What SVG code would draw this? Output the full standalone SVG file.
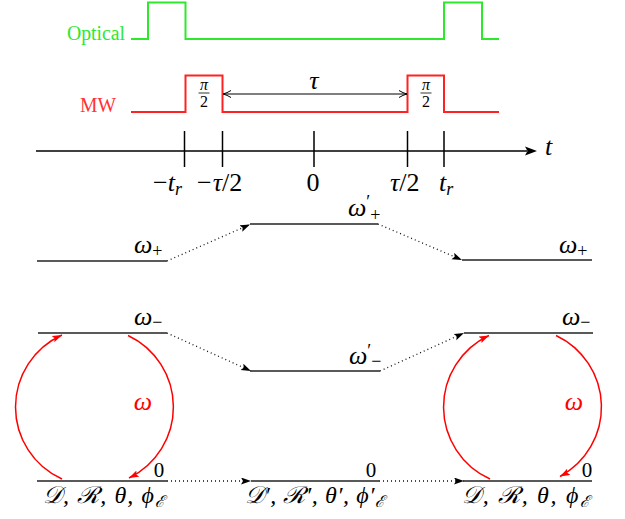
<svg xmlns="http://www.w3.org/2000/svg" width="625" height="519" viewBox="0 0 625 519">
<style>
  .txt { font-family: "Liberation Serif", "Times New Roman", "DejaVu Serif", serif; }
  .it { font-family: "Liberation Serif", "Times New Roman", "DejaVu Serif", serif; font-style: italic; }
  .up { font-style: normal; }
  .lvl { stroke: #222; stroke-width: 1.4; fill: none; }
  .dot { stroke: #111; stroke-width: 1.3; stroke-dasharray: 1 3; fill: none; marker-end: url(#blk); }
  .arc { stroke: #f00; stroke-width: 1.5; fill: none; marker-end: url(#red); }
  .pulseG { stroke: #2ee82e; stroke-width: 2; fill: none; }
  .pulseR { stroke: #f22; stroke-width: 2; fill: none; }
</style>
<defs>
  <marker id="blk" markerUnits="userSpaceOnUse" markerWidth="12" markerHeight="8" refX="10" refY="3.5" orient="auto">
    <path d="M0,0 L10,3.5 L0,7 L2,3.5 Z" fill="#000"/>
  </marker>
  <marker id="red" markerUnits="userSpaceOnUse" markerWidth="12" markerHeight="8" refX="10" refY="3.5" orient="auto">
    <path d="M0,0 L10,3.5 L0,7 L2,3.5 Z" fill="#f00"/>
  </marker>
  <marker id="open" markerUnits="userSpaceOnUse" markerWidth="10" markerHeight="10" refX="8" refY="4" orient="auto-start-reverse">
    <path d="M0,0.5 Q4,3 8,4 Q4,5 0,7.5" fill="none" stroke="#000" stroke-width="1"/>
  </marker>
</defs>

<g id="optical">
  <text class="txt" x="67" y="40" font-size="20" fill="#2ee82e" textLength="58" lengthAdjust="spacingAndGlyphs">Optical</text>
  <polyline class="pulseG" points="131,39 148,39 148,2.5 185.5,2.5 185.5,39 444,39 444,2.5 482,2.5 482,39 499,39"/>
</g>

<g id="mw">
  <text class="txt" x="80" y="112" font-size="20" fill="#f33" textLength="36" lengthAdjust="spacingAndGlyphs">MW</text>
  <polyline class="pulseR" points="131,112 185.5,112 185.5,75.5 222.5,75.5 222.5,112 407.5,112 407.5,75.5 444,75.5 444,112 499,112"/>
  <g id="frac-left">
    <text class="it" x="204" y="90" font-size="16" text-anchor="middle">π</text>
    <line x1="198.5" y1="93" x2="209.5" y2="93" stroke="#000" stroke-width="0.8"/>
    <text class="txt" x="204" y="107" font-size="16" text-anchor="middle">2</text>
  </g>
  <g id="frac-right">
    <text class="it" x="426" y="90" font-size="16" text-anchor="middle">π</text>
    <line x1="420.5" y1="93" x2="431.5" y2="93" stroke="#000" stroke-width="0.8"/>
    <text class="txt" x="426" y="107" font-size="16" text-anchor="middle">2</text>
  </g>
  <line x1="223" y1="94" x2="407" y2="94" stroke="#000" stroke-width="1" marker-start="url(#open)" marker-end="url(#open)"/>
  <text class="it" x="314" y="89" font-size="26" text-anchor="middle">τ</text>
</g>

<g id="axis">
  <line x1="36" y1="151" x2="527" y2="151" stroke="#000" stroke-width="1.5"/>
  <path d="M537,151 L525,146.5 L527.5,151 L525,155.5 Z" fill="#000"/>
  <text class="it" x="545" y="155" font-size="26">t</text>
  <g stroke="#000" stroke-width="1.5">
    <line x1="184.5" y1="131" x2="184.5" y2="167"/>
    <line x1="222.5" y1="131" x2="222.5" y2="167"/>
    <line x1="314" y1="131" x2="314" y2="167"/>
    <line x1="407.5" y1="131" x2="407.5" y2="167"/>
    <line x1="444" y1="131" x2="444" y2="167"/>
  </g>
  <text class="txt" x="153" y="191" font-size="26">−<tspan class="it">t</tspan><tspan class="it" font-size="18" dy="4">r</tspan></text>
  <text class="txt" x="197" y="191" font-size="26">−<tspan class="it" dx="1">τ</tspan>/2</text>
  <text class="txt" x="313" y="191" font-size="26" text-anchor="middle">0</text>
  <text class="txt" x="390" y="191" font-size="26"><tspan class="it">τ</tspan>/2</text>
  <text class="it" x="439" y="191" font-size="26">t<tspan font-size="18" dy="4">r</tspan></text>
</g>

<g id="connectors">
  <line class="dot" x1="167" y1="261" x2="250" y2="224.5"/>
  <line class="dot" x1="378" y1="224" x2="462" y2="260"/>
  <line class="dot" x1="167" y1="333" x2="251" y2="371"/>
  <line class="dot" x1="380" y1="371" x2="464" y2="333"/>
  <line class="dot" x1="167" y1="481" x2="251" y2="481"/>
  <line class="dot" x1="379" y1="481" x2="464" y2="481"/>
  <path class="arc" d="M62,479 A79,79 0 0 1 62,335"/>
  <path class="arc" d="M128,335.5 A79,79 0 0 1 129,478"/>
  <path class="arc" d="M490,479 A79,79 0 0 1 489,335.5"/>
  <path class="arc" d="M556,335.5 A79,79 0 0 1 560,476.5"/>
</g>

<g id="level-plus-left">
  <line class="lvl" x1="37" y1="261" x2="167" y2="261"/>
  <text class="it" x="134" y="253" font-size="26">ω<tspan class="up" font-size="18" dy="4">+</tspan></text>
</g>
<g id="level-plus-mid">
  <line class="lvl" x1="250" y1="224" x2="378" y2="224"/>
  <text class="it" x="348" y="216" font-size="26">ω<tspan class="up" font-size="18" dy="-8">′</tspan><tspan class="up" font-size="18" dy="13">+</tspan></text>
</g>
<g id="level-plus-right">
  <line class="lvl" x1="462" y1="260" x2="592" y2="260"/>
  <text class="it" x="559" y="253" font-size="26">ω<tspan class="up" font-size="18" dy="4">+</tspan></text>
</g>

<g id="level-minus-left">
  <line class="lvl" x1="38" y1="333" x2="167" y2="333"/>
  <text class="it" x="134" y="325" font-size="26">ω<tspan class="up" font-size="18" dy="3">−</tspan></text>
</g>
<g id="level-minus-mid">
  <line class="lvl" x1="250" y1="371" x2="380" y2="371"/>
  <text class="it" x="349" y="364" font-size="26">ω<tspan class="up" font-size="18" dy="-7">′</tspan><tspan class="up" font-size="18" dy="10">−</tspan></text>
</g>
<g id="level-minus-right">
  <line class="lvl" x1="464" y1="333" x2="593" y2="333"/>
  <text class="it" x="562" y="325" font-size="26">ω<tspan class="up" font-size="18" dy="3">−</tspan></text>
</g>

<g id="level-zero-left">
  <line class="lvl" x1="37" y1="481" x2="167" y2="481"/>
  <text class="txt" x="159" y="477" font-size="21" text-anchor="middle">0</text>
  <text class="it" x="43" y="503" font-size="24" textLength="122">𝒟, ℛ, θ, ϕ<tspan font-size="16" dy="4">ℰ</tspan></text>
</g>
<g id="level-zero-mid">
  <line class="lvl" x1="251" y1="481" x2="379" y2="481"/>
  <text class="txt" x="371" y="477" font-size="21" text-anchor="middle">0</text>
  <text class="it" x="245" y="503" font-size="24" textLength="140">𝒟′, ℛ′, θ′, ϕ′<tspan font-size="16" dy="4">ℰ</tspan></text>
</g>
<g id="level-zero-right">
  <line class="lvl" x1="464" y1="481" x2="592" y2="481"/>
  <text class="txt" x="587" y="477" font-size="21" text-anchor="middle">0</text>
  <text class="it" x="462" y="503" font-size="24" textLength="128">𝒟, ℛ, θ, ϕ<tspan font-size="16" dy="4">ℰ</tspan></text>
</g>

<g id="omega-labels">
  <text class="it" x="143" y="410" font-size="26" fill="#f00" text-anchor="middle">ω</text>
  <text class="it" x="574" y="410" font-size="26" fill="#f00" text-anchor="middle">ω</text>
</g>
</svg>
